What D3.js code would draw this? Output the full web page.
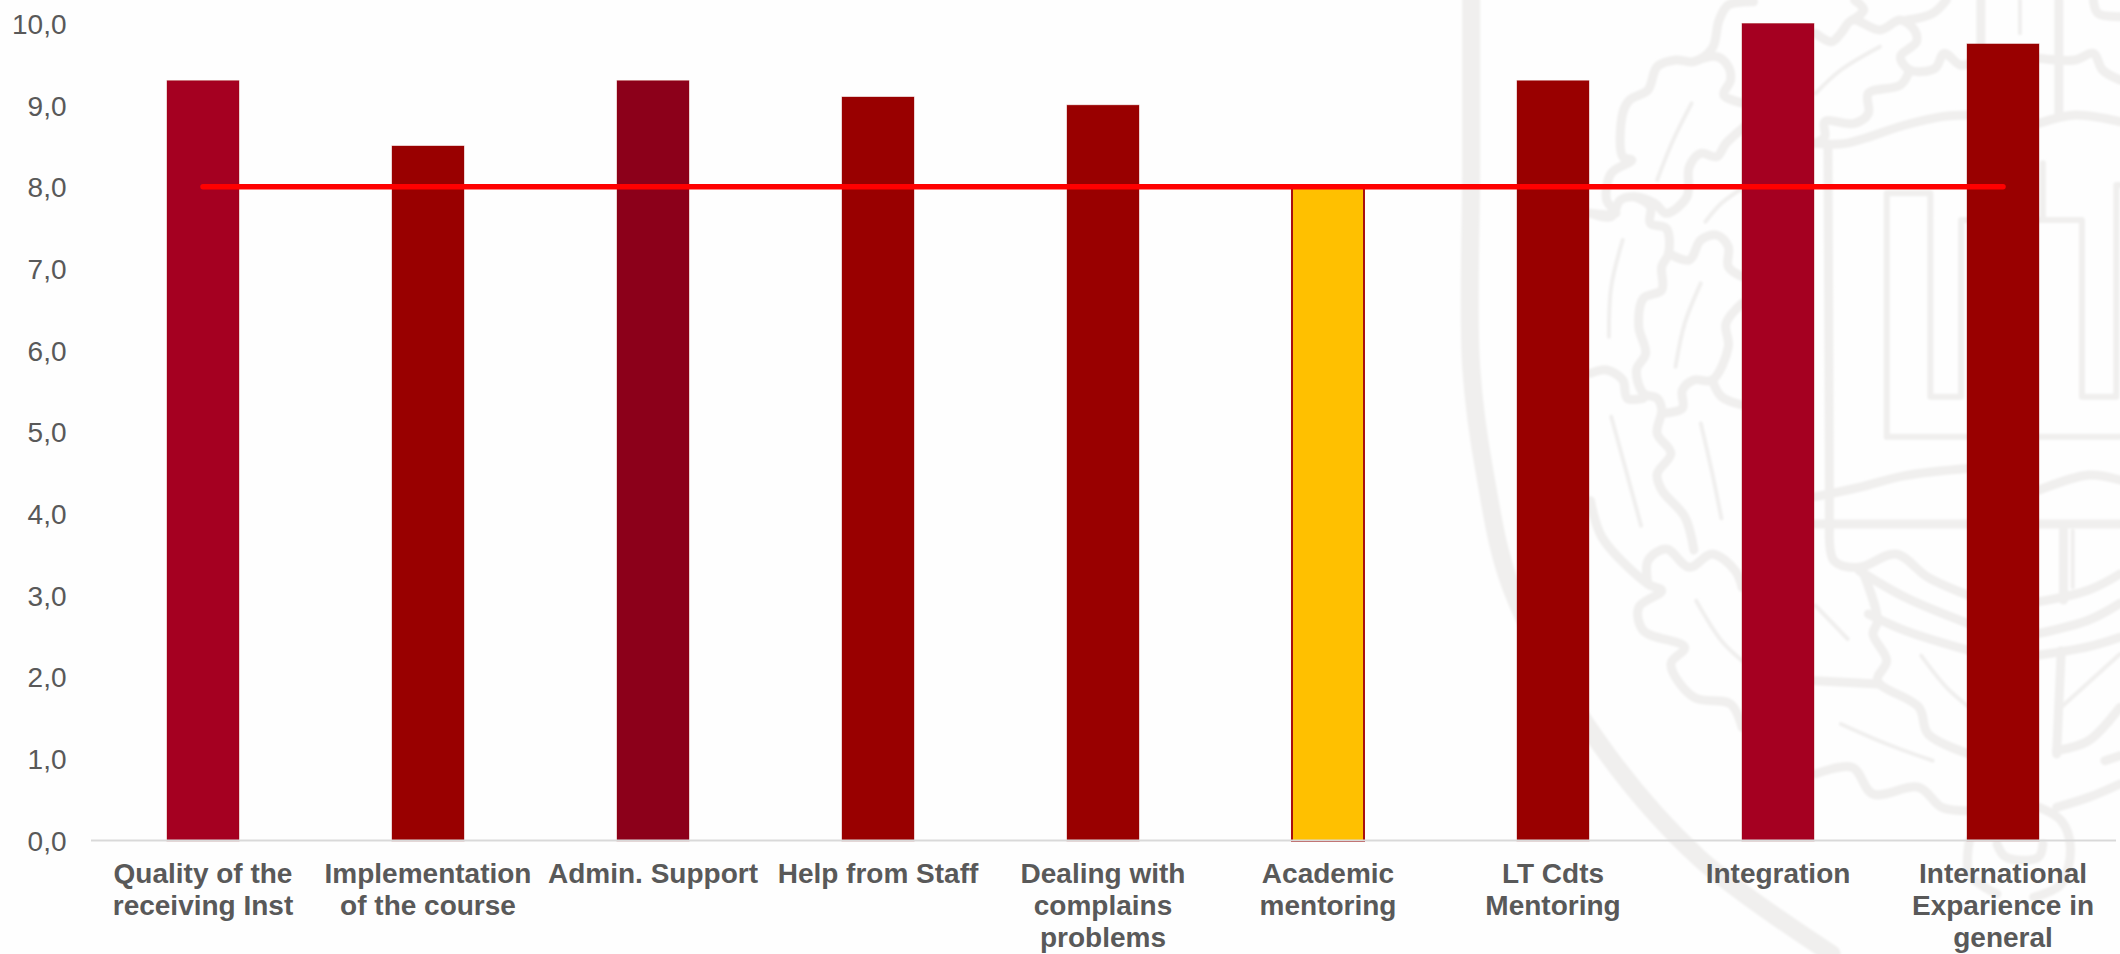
<!DOCTYPE html>
<html>
<head>
<meta charset="utf-8">
<script src="https://cdn.jsdelivr.net/npm/d3@7"></script>
<style>
  html, body { margin: 0; padding: 0; background: #fefefe; }
  svg { display: block; }
  text { font-family: "Liberation Sans", Arial, sans-serif; fill: #595959; font-size: 28px; }
</style>
</head>
<body>
<div id="chart"></div>
<script>
const categories = [
  "Quality of the\nreceiving Inst", "Implementation\nof the course", "Admin. Support",
  "Help from Staff", "Dealing with\ncomplains\nproblems", "Academic\nmentoring",
  "LT Cdts\nMentoring", "Integration", "International\nExparience in\ngeneral"
];
const scores = [9.3, 8.5, 9.3, 9.1, 9.0, 8.0, 9.3, 10.0, 9.75];
const target = [8, 8, 8, 8, 8, 8, 8, 8, 8];
const barColors = ["#a50021", "#990000", "#8c001a", "#990000", "#990000", "#ffc000", "#990000", "#a50021", "#990000"];
const yTicks = [0, 1, 2, 3, 4, 5, 6, 7, 8, 9, 10];

// background crest (crop coords, see wx/wy)
const crestThick = [
  [[155,0],[155,500],[155,1100],[185,1422],[245,1772],[430,2222],[650,2572],[940,2862]]
];
const crestMid = [
  [[770,5],[715,15],[695,60],[680,145],[640,185],[600,180],[560,200],[540,270],[500,300],[485,340],[485,470],[505,480],[460,520],[450,600],[470,640],[415,640]],
  [[640,185],[690,170],[715,200],[720,240],[705,285],[750,310]],
  [[750,380],[710,430],[690,470],[655,460],[630,500],[625,590],[580,640],[555,610],[510,590],[480,600],[460,650],[415,640]],
  [[510,590],[545,620],[545,670],[580,685],[585,760],[570,800],[570,870],[530,895],[520,980],[535,1060],[515,1110],[530,1180],[560,1195],[570,1230],[560,1300],[590,1360],[560,1422],[570,1470],[620,1550],[640,1650]],
  [[585,760],[630,780],[655,720],[690,705],[715,740],[715,800],[745,830]],
  [[745,910],[710,970],[715,1040],[680,1140],[640,1140],[615,1170],[615,1225],[570,1240]],
  [[680,1140],[700,1190],[745,1215]],
  [[415,1120],[450,1110],[485,1140],[495,1195],[530,1195]],
  [[905,100],[940,125],[960,100],[985,60],[1045,90],[1090,60],[1120,90],[1125,125],[1090,170],[1110,210],[1165,205],[1185,160],[1220,195],[1240,190]],
  [[985,60],[1010,30],[990,0]],
  [[1110,210],[1090,255],[1020,280],[1020,340],[990,370],[925,365],[925,410],[905,430]],
  [[1105,60],[1160,40],[1190,0]],
  [[1392,175],[1470,180],[1510,160],[1530,210],[1568,240]],
  [[1510,0],[1520,40],[1568,50]],
  [[905,430],[970,430],[1100,375],[1180,350],[1240,345]],
  [[1392,370],[1470,345],[1568,365]],
  [[932,440],[935,1440],[935,1592]],
  [[1265,0],[1265,340]],
  [[1435,0],[1435,340]],
  [[905,1490],[1000,1462],[1100,1427],[1240,1405]],
  [[1392,1470],[1500,1425],[1568,1440]],
  [[905,1572],[1568,1572]],
  [[935,1592],[945,1682],[1000,1702],[1080,1662],[1150,1732],[1240,1787]],
  [[1000,1712],[1100,1792],[1240,1872]],
  [[1020,1842],[1100,1892],[1240,1952]],
  [[1392,1900],[1500,1860],[1568,1810]],
  [[1392,1965],[1500,1940],[1568,1912]],
  [[1392,1805],[1500,1770],[1568,1722]],
  [[1445,1590],[1445,1800]],
  [[415,1502],[440,1612],[540,1752],[570,1772],[520,1822],[530,1892],[620,1942],[590,1992],[640,2092],[720,2112],[745,2182]],
  [[540,1752],[540,1682],[580,1647],[630,1702],[680,1662],[730,1712],[745,1762]],
  [[1010,1722],[1040,1862],[1030,1902],[1060,1982],[1040,2042],[1130,2122],[1150,2202],[1240,2262]],
  [[905,2042],[1040,2052]],
  [[905,2322],[985,2302],[1030,2382],[1130,2362],[1180,2422],[1240,2432]],
  [[1392,2422],[1440,2462],[1460,2542],[1440,2652],[1380,2692]],
  [[1240,2522],[1240,2622],[1300,2682]],
  [[1300,2532],[1320,2572],[1390,2572],[1400,2532]],
  [[1440,1952],[1430,2262]],
  [[1430,2252],[1500,2222],[1568,2122]],
  [[1430,2422],[1500,2392],[1568,2352]],
  [[1535,2282],[1568,2267]]
];
const crestThin = [
  [[635,310],[595,420],[560,540]],
  [[485,720],[460,860],[455,1010]],
  [[655,850],[620,970],[600,1100]],
  [[460,1250],[480,1350],[525,1577]],
  [[655,1270],[680,1420],[700,1555]],
  [[1045,140],[960,210],[905,280]],
  [[740,570],[700,610],[665,665]],
  [[645,1802],[700,1922],[745,1982]],
  [[905,1817],[975,1917]],
  [[960,2172],[1060,2232],[1160,2282]],
  [[1135,1967],[1190,2062],[1240,2122]],
  [[1440,2122],[1568,1962]],
  [[1350,0],[1350,100]],
  [[1465,1592],[1465,1762]]
];
const crestFrames = [
  [[1060,1310],[1060,580],[1155,580],[1155,1190],[1222,1190],[1222,660],[1485,660],[1485,1190],[1560,1190],[1560,555],[1568,555]],
  [[1400,490],[1400,660]],
  [[1060,1310],[1568,1310]]
];

const width = 2120, height = 954;
const plot = { left: 90.5, right: 2115.5, top: 23.5, bottom: 840 };

const svg = d3.select('#chart').append('svg')
  .attr('width', width)
  .attr('height', height);

svg.append('rect').attr('width', width).attr('height', height).attr('fill', '#fefefe');

svg.append('filter').attr('id', 'soft')
  .append('feGaussianBlur').attr('stdDeviation', 0.8);

// crest
const wx = d3.scaleLinear().domain([0, 1568]).range([1400, 1400 + 720]);
const wy = d3.scaleLinear().domain([0, 1440]).range([0, 480]);
const crestLine = d3.line().x(d => wx(d[0])).y(d => wy(d[1])).curve(d3.curveCatmullRom);
const frameLine = d3.line().x(d => wx(d[0])).y(d => wy(d[1]));
const crest = svg.append('g').attr('fill', 'none').attr('stroke', '#f0efee')
  .attr('stroke-linecap', 'round').attr('stroke-linejoin', 'round')
  .attr('filter', 'url(#soft)');
crestThick.forEach(p => crest.append('path').attr('d', crestLine(p)).attr('stroke-width', 18));
crestMid.forEach(p => crest.append('path').attr('d', crestLine(p)).attr('stroke-width', 9));
crestThin.forEach(p => crest.append('path').attr('d', crestLine(p)).attr('stroke-width', 4));
crestFrames.forEach(p => crest.append('path').attr('d', frameLine(p)).attr('stroke-width', 6));

// scales
const x = d3.scaleBand()
  .domain(categories)
  .range([plot.left, plot.right])
  .paddingInner(0.68)
  .paddingOuter(0.34);

const y = d3.scaleLinear()
  .domain([0, 10])
  .range([plot.bottom, plot.top]);

const commaFormat = d3.formatLocale({ decimal: ',', thousands: '.', grouping: [3], currency: ['', ''] }).format('.1f');

// bars
svg.append('g').selectAll('rect')
  .data(scores)
  .enter()
  .append('rect')
  .attr('x', (d, i) => x(categories[i]))
  .attr('y', d => y(d))
  .attr('width', x.bandwidth())
  .attr('height', d => y(0) - y(d) + 1)
  .attr('fill', (d, i) => barColors[i])
  .attr('stroke', (d, i) => barColors[i] === '#ffc000' ? '#a81010' : 'rgba(153,0,0,0.35)')
  .attr('stroke-width', (d, i) => barColors[i] === '#ffc000' ? 2 : 1);

// axes
const yAxis = svg.append('g')
  .attr('transform', `translate(${plot.left},0)`)
  .call(d3.axisLeft(y).tickValues(yTicks).tickFormat(commaFormat).tickSize(0).tickPadding(24));
yAxis.select('.domain').remove();
yAxis.selectAll('.tick text').attr('dy', '0.36em');

const xAxis = svg.append('g')
  .attr('transform', `translate(0,${plot.bottom})`)
  .call(d3.axisBottom(x).tickSize(0).tickSizeOuter(0));
xAxis.select('.domain').attr('stroke', '#d9d9d9').attr('stroke-width', 2);

xAxis.selectAll('.tick text').each(function (d) {
  const label = d3.select(this).text('').attr('dy', null).attr('y', null);
  d.split('\n').forEach((part, i) => {
    label.append('tspan')
      .attr('x', 0)
      .attr('y', 42.5 + i * 32.3)
      .style('font-weight', 'bold')
      .text(part);
  });
});

// target line
const targetLine = d3.line()
  .x((d, i) => x(categories[i]) + x.bandwidth() / 2)
  .y(d => y(d));

svg.append('path')
  .datum(target)
  .attr('d', targetLine)
  .attr('fill', 'none')
  .attr('stroke', '#ff0000')
  .attr('stroke-width', 5.5)
  .attr('stroke-linecap', 'round');
</script>
</body>
</html>
